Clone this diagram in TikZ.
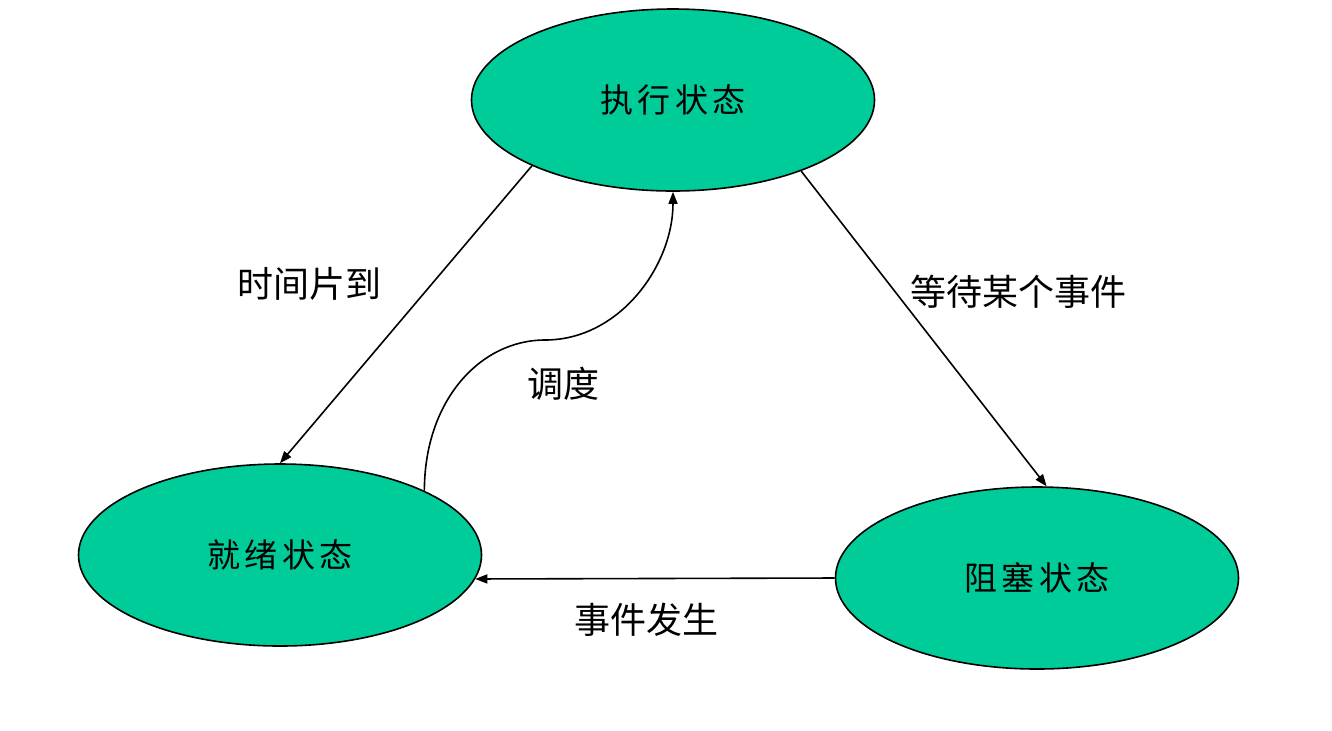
\documentclass[tikz,border=0pt]{standalone}
\usepackage{fontspec}
\newfontfamily\cjk{Noto Sans CJK SC}
\newfontfamily\cjknode[LetterSpace=14]{Noto Sans CJK SC}
\usetikzlibrary{shapes.geometric,arrows.meta}
\definecolor{statefill}{RGB}{0,204,153}
\tikzset{
  state/.style={ellipse, draw=black, line width=0.8pt, fill=statefill, minimum width=201.5pt, minimum height=91pt, inner sep=0pt, font=\cjknode\fontsize{16.5}{18}\selectfont},
  lbl/.style={font=\cjk\fontsize{18}{20}\selectfont, inner sep=0pt},
  conn/.style={draw=black, line width=0.8pt, -{Triangle[length=6pt,width=4.5pt]}}
}
\begin{document}
\begin{tikzpicture}[x=0.5pt,y=-0.5pt]
\useasboundingbox[fill=white] (0,0) rectangle (1332,730);
\node[state] (run) at (673,100) {执行状态};
\node[state] (ready) at (280,555) {就绪状态};
\node[state] (block) at (1037,578) {阻塞状态};
\coordinate (mid) at (545,340);
\draw[conn] (run.205.4) -- (ready.north);
\draw[conn] (run.331.5) -- (block.84);
\draw[conn] (block.west) -- (ready.-7.3);
\draw[conn] (ready.24.8) .. controls +(0,-90) and (480,340) .. (mid) .. controls (620,340) and (673,265) .. (run.south);
\node[lbl] (l1) at (309,284) {时间片到};
\node[lbl] (l2) at (1018,292) {等待某个事件};
\node[lbl] (l3) at (563,384) {调度};
\node[lbl] (l4) at (646,620) {事件发生};
\end{tikzpicture}
\end{document}
